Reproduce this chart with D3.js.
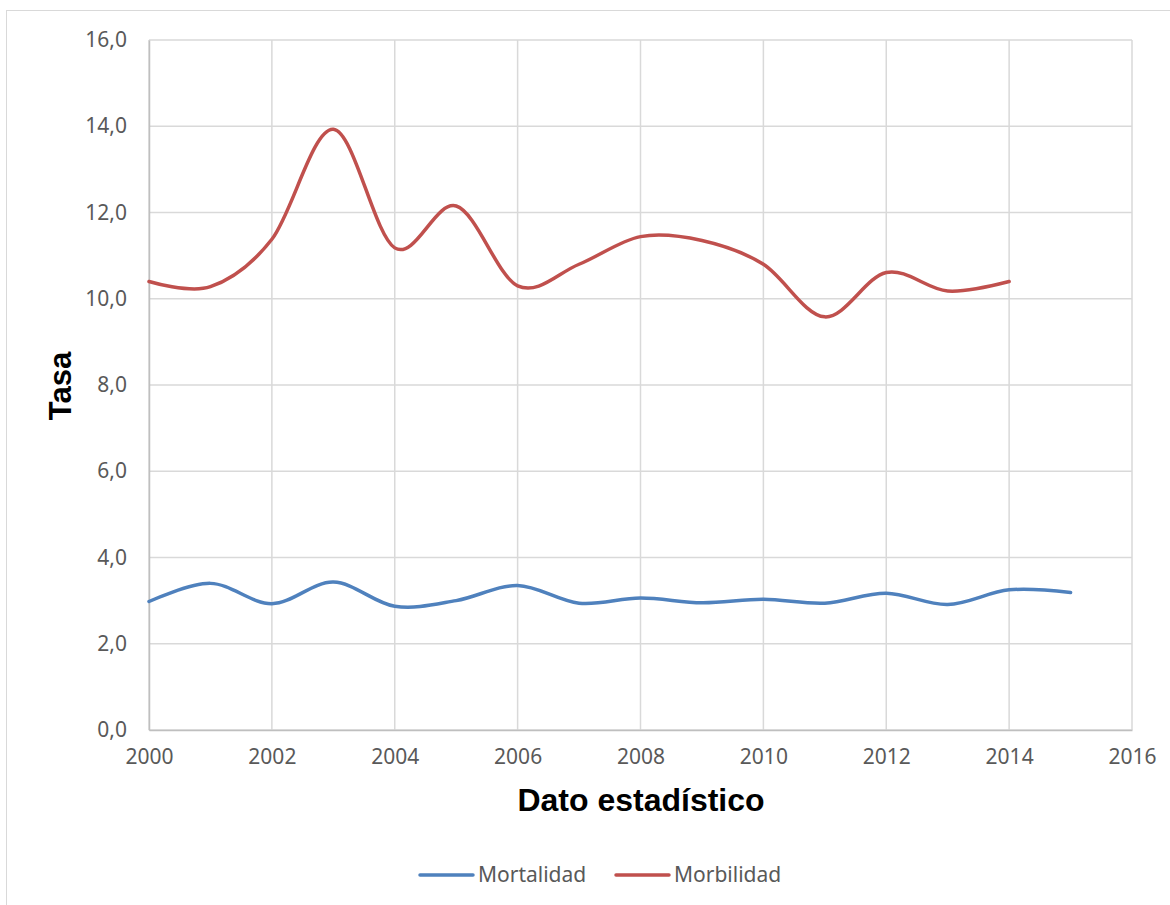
<!DOCTYPE html>
<html>
<head>
<meta charset="utf-8">
<script src="https://cdn.jsdelivr.net/npm/d3@7"></script>
<style>
  html, body { margin: 0; padding: 0; background: #fff; }
  svg { display: block; }
</style>
</head>
<body>
<svg id="chart" width="1170" height="905"></svg>
<script>
// Annual rates, 2000–2015
const years = [2000, 2001, 2002, 2003, 2004, 2005, 2006, 2007, 2008, 2009, 2010, 2011, 2012, 2013, 2014, 2015];
const mortalidad = [2.98, 3.4, 2.93, 3.43, 2.87, 3.0, 3.35, 2.94, 3.06, 2.95, 3.03, 2.94, 3.17, 2.91, 3.25, 3.19];
const morbilidad = [10.4, 10.28, 11.38, 13.93, 11.18, 12.15, 10.3, 10.8, 11.44, 11.35, 10.8, 9.58, 10.61, 10.18, 10.4];
const xTicks = [2000, 2002, 2004, 2006, 2008, 2010, 2012, 2014, 2016];
const yTicks = [0, 2, 4, 6, 8, 10, 12, 14, 16];
const seriesNames = ["Mortalidad", "Morbilidad"];
const seriesColors = ["#4f81bd", "#c0504d"];

const svg = d3.select("#chart");
const margin = { left: 149, right: 1132, top: 40, bottom: 730 };

// Chart frame
svg.append("rect")
  .attr("x", 6.5).attr("y", 10.5)
  .attr("width", 1200).attr("height", 1000)
  .attr("fill", "#fff").attr("stroke", "#d9d9d9").attr("stroke-width", 1);

const x = d3.scaleLinear().domain([2000, 2016]).range([margin.left, margin.right]);
const y = d3.scaleLinear().domain([0, 16]).range([margin.bottom, margin.top]);

const font = "'Noto Sans', 'Open Sans', sans-serif";
const fmt = v => d3.format(".1f")(v).replace(".", ",");

// Gridlines
const grid = svg.append("g");
grid.selectAll("line.h").data(yTicks).join("line")
  .attr("x1", margin.left).attr("x2", margin.right)
  .attr("y1", d => y(d)).attr("y2", d => y(d))
  .attr("stroke", "#d9d9d9").attr("stroke-width", 1.5);
grid.selectAll("line.v").data(xTicks).join("line")
  .attr("x1", d => x(d)).attr("x2", d => x(d))
  .attr("y1", margin.top).attr("y2", margin.bottom)
  .attr("stroke", "#d9d9d9").attr("stroke-width", 1.5);

// Axes (labels only, lines drawn as grid)
const yAxis = svg.append("g")
  .attr("transform", `translate(${margin.left},0)`)
  .call(d3.axisLeft(y).tickValues(yTicks).tickFormat(fmt).tickSize(0).tickPadding(22));
yAxis.select(".domain").attr("stroke", "#bfbfbf").attr("stroke-width", 1.5);
yAxis.selectAll("text").attr("font-family", font).attr("font-size", 21).attr("fill", "#595959");

const xAxis = svg.append("g")
  .attr("transform", `translate(0,${margin.bottom})`)
  .call(d3.axisBottom(x).tickValues(xTicks).tickFormat(d3.format("d")).tickSize(0).tickPadding(19));
xAxis.select(".domain").attr("stroke", "#bfbfbf").attr("stroke-width", 1.5);
xAxis.selectAll("text").attr("font-family", font).attr("font-size", 21).attr("fill", "#595959");

// Smoothed series lines
const line = d3.line()
  .x((d, i) => x(years[i]))
  .y(d => y(d))
  .curve(d3.curveCatmullRom.alpha(0));

[mortalidad, morbilidad].forEach((vals, k) => {
  svg.append("path")
    .datum(vals)
    .attr("d", line)
    .attr("fill", "none")
    .attr("stroke", seriesColors[k])
    .attr("stroke-width", 3.5)
    .attr("stroke-linecap", "round")
    .attr("stroke-linejoin", "round");
});

// Axis titles
svg.append("text")
  .attr("transform", "translate(71,386) rotate(-90)")
  .attr("text-anchor", "middle")
  .attr("font-family", "'Liberation Sans', Arial, sans-serif")
  .attr("font-weight", "bold").attr("font-size", 31)
  .attr("fill", "#000")
  .text("Tasa");

svg.append("text")
  .attr("x", 641).attr("y", 811)
  .attr("text-anchor", "middle")
  .attr("font-family", "'Liberation Sans', Arial, sans-serif")
  .attr("font-weight", "bold").attr("font-size", 32)
  .attr("fill", "#000")
  .text("Dato estadístico");

// Legend
const legendX = [420, 616];
const legend = svg.append("g");
seriesNames.forEach((name, k) => {
  legend.append("line")
    .attr("x1", legendX[k]).attr("x2", legendX[k] + 53)
    .attr("y1", 875).attr("y2", 875)
    .attr("stroke", seriesColors[k]).attr("stroke-width", 3.5)
    .attr("stroke-linecap", "round");
  legend.append("text")
    .attr("x", legendX[k] + 58).attr("y", 882)
    .attr("font-family", font).attr("font-size", 21)
    .attr("fill", "#595959")
    .text(name);
});
</script>
</body>
</html>
